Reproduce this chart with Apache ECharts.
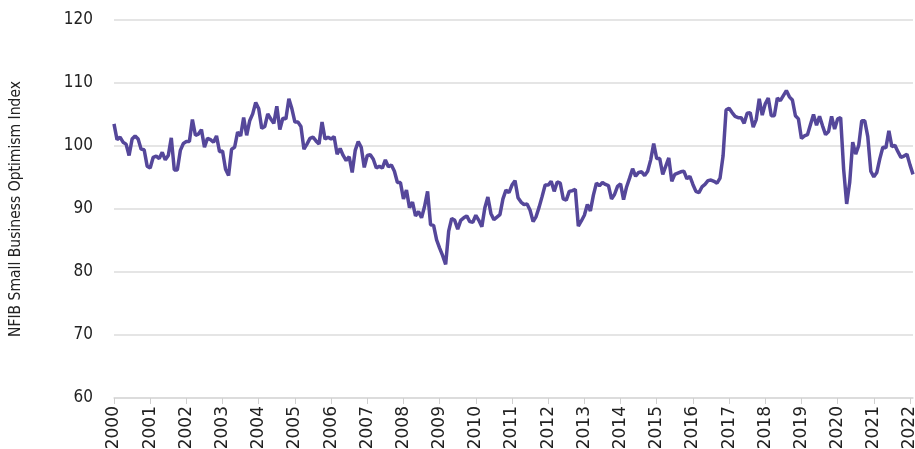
<!DOCTYPE html>
<html>
<head>
<meta charset="utf-8">
<script src="https://cdn.jsdelivr.net/npm/echarts@6/dist/echarts.min.js"></script>
<style>
  html, body { margin: 0; padding: 0; background: #fff; }
  #main { width: 915px; height: 449px; }
</style>
</head>
<body>
<div id="main"></div>
<script>
// monthly values, Jan 2000 .. Feb 2022
var years = [];
for (var y = 2000; y <= 2022; y++) years.push(y);

var v2000 = [103.5, 101.0, 101.4, 100.6, 100.3, 98.5, 101.1, 101.6, 101.1, 99.5, 99.4, 96.8];
var v2001 = [96.5, 98.2, 98.4, 98.0, 99.0, 97.8, 98.5, 101.3, 96.2, 96.2, 99.3, 100.4];
var v2002 = [100.7, 100.7, 104.2, 101.7, 101.9, 102.6, 99.8, 101.2, 101.0, 100.6, 101.6, 99.1];
var v2003 = [99.2, 96.3, 95.3, 99.5, 99.8, 102.2, 101.6, 104.5, 101.7, 104.0, 105.1, 106.9];
var v2004 = [105.9, 102.8, 103.1, 105.1, 104.3, 103.6, 106.3, 102.6, 104.4, 104.3, 107.5, 105.9];
var v2005 = [103.8, 103.8, 103.1, 99.5, 100.3, 101.2, 101.4, 100.8, 100.3, 103.8, 101.1, 101.4];
var v2006 = [101.1, 101.5, 98.7, 99.6, 98.5, 97.7, 98.3, 95.8, 99.3, 100.7, 99.8, 96.6];
var v2007 = [98.5, 98.6, 97.9, 96.5, 96.8, 96.5, 97.8, 96.7, 97.0, 96.0, 94.2, 94.2];
var v2008 = [91.6, 93.0, 90.2, 91.1, 88.9, 89.6, 88.6, 90.4, 92.8, 87.5, 87.4, 85.1];
var v2009 = [83.8, 82.6, 81.2, 86.5, 88.5, 88.2, 86.8, 88.2, 88.6, 88.9, 88.0, 87.9];
var v2010 = [89.0, 88.2, 87.2, 90.2, 91.9, 89.3, 88.3, 88.7, 89.1, 91.6, 93.0, 92.6];
var v2011 = [93.8, 94.5, 91.8, 91.1, 90.7, 90.8, 89.8, 88.0, 88.8, 90.3, 92.0, 93.8];
var v2012 = [93.8, 94.4, 92.8, 94.3, 94.1, 91.6, 91.4, 92.8, 92.9, 93.1, 87.3, 88.1];
var v2013 = [89.0, 90.7, 89.7, 92.2, 94.1, 93.7, 94.2, 93.9, 93.7, 91.6, 92.3, 93.6];
var v2014 = [94.0, 91.5, 93.5, 94.9, 96.4, 95.2, 95.8, 95.9, 95.3, 96.0, 97.8, 100.4];
var v2015 = [98.0, 98.0, 95.5, 96.8, 98.1, 94.4, 95.5, 95.7, 95.9, 96.0, 94.8, 95.2];
var v2016 = [93.9, 92.8, 92.6, 93.5, 93.9, 94.5, 94.6, 94.4, 94.1, 94.9, 98.4, 105.7];
var v2017 = [106.0, 105.3, 104.7, 104.5, 104.5, 103.6, 105.2, 105.3, 103.0, 104.2, 107.5, 104.9];
var v2018 = [106.7, 107.6, 104.8, 104.8, 107.6, 107.2, 108.0, 108.8, 107.8, 107.3, 104.8, 104.3];
var v2019 = [101.2, 101.6, 101.8, 103.4, 105.0, 103.3, 104.7, 103.2, 101.8, 102.3, 104.7, 102.7];
var v2020 = [104.3, 104.5, 96.3, 90.8, 94.2, 100.6, 98.7, 100.1, 104.0, 104.0, 101.5, 96.0];
var v2021 = [95.1, 95.8, 98.0, 99.8, 99.7, 102.4, 99.9, 100.1, 99.1, 98.2, 98.4, 98.7];
var v2022 = [97.0, 95.5];

var yTicks = [60, 70, 80, 90, 100, 110, 120];

var values = [].concat(v2000, v2001, v2002, v2003, v2004, v2005, v2006, v2007, v2008,
    v2009, v2010, v2011, v2012, v2013, v2014, v2015, v2016, v2017, v2018, v2019,
    v2020, v2021, v2022);

var months = [];
for (var i = 0; i < values.length; i++) {
    months.push(years[Math.floor(i / 12)] + '-' + ('0' + (i % 12 + 1)).slice(-2));
}

var narrow = "'DejaVu Sans Condensed', 'Liberation Sans', sans-serif";

var myChart = echarts.init(document.getElementById('main'));
var option = {
    animation: false,
    grid: {
        left: 114,
        right: 2,
        top: 20,
        bottom: 51,
        outerBoundsMode: 'none'
    },
    xAxis: {
        type: 'category',
        data: months,
        boundaryGap: false,
        axisLine: { lineStyle: { color: '#d9d9d9', width: 1.5 } },
        axisTick: { interval: 11, length: 6, lineStyle: { color: '#d0d0d0' } },
        axisLabel: {
            interval: 11,
            rotate: 90,
            margin: 8,
            color: '#222',
            fontFamily: 'DejaVu Sans',
            fontSize: 17,
            formatter: function (val) { return val.slice(0, 4); }
        },
        splitLine: { show: false }
    },
    yAxis: {
        type: 'value',
        min: yTicks[0],
        max: yTicks[yTicks.length - 1],
        interval: 10,
        name: 'NFIB Small Business Optimism Index',
        nameLocation: 'middle',
        nameGap: 90,
        nameTextStyle: {
            color: '#222',
            fontFamily: narrow,
            fontSize: 15.5
        },
        axisLine: { show: false },
        axisTick: { show: false },
        axisLabel: {
            margin: 21,
            color: '#222',
            fontFamily: narrow,
            fontSize: 17
        },
        splitLine: { lineStyle: { color: '#dcdcdc', width: 1.5 } }
    },
    series: [
        {
            name: 'NFIB',
            type: 'line',
            data: values,
            showSymbol: false,
            lineStyle: { color: '#55479a', width: 3.5 },
            itemStyle: { color: '#55479a' }
        }
    ]
};
myChart.setOption(option);
</script>
</body>
</html>
